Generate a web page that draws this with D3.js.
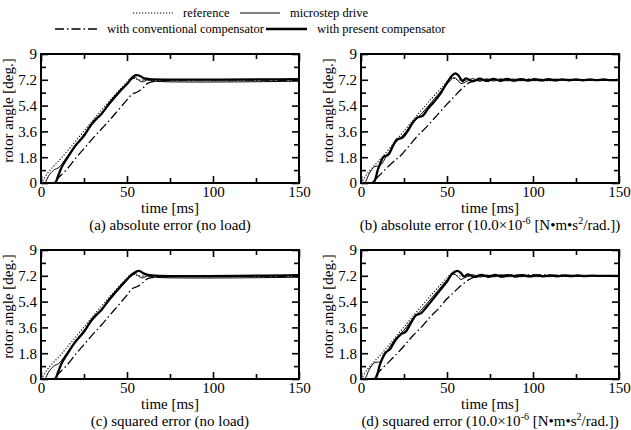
<!DOCTYPE html>
<html>
<head>
<meta charset="utf-8">
<script src="https://cdn.jsdelivr.net/npm/d3@7"></script>
<style>
  body { margin: 0; background: #fff; }
  svg { font-family: "Liberation Serif", "Times New Roman", serif; }
</style>
</head>
<body>
<div id="chart"></div>
<script>
// axis ticks
const xTicks = [0, 50, 100, 150];
const xMinor = [25, 75, 125];
const yTicks = [0, 1.8, 3.6, 5.4, 7.2, 9];
const yMinor = [0.9, 2.7, 4.5, 6.3, 8.1];

const legendNames = ["reference", "microstep drive", "with conventional compensator", "with present compensator"];

// (a) absolute error, no load
const refA = [[0,0],[1,0.15],[3,0.55],[6,1.0],[10,1.5],[20,2.9],[30,4.35],[40,5.75],[50,7.05],[52,7.3],[54,7.3],[57,7.2],[150,7.2]];
const microA = [[0,0],[2,0],[5,0.6],[8,0.95],[10,1.05],[12,1.3],[15,1.8],[20,2.6],[25,3.4],[30,4.1],[35,4.8],[40,5.5],[45,6.2],[50,6.9],[53,7.25],[55,7.35],[57,7.15],[59,7.05],[62,7.2],[66,7.1],[150,7.1]];
const convA = [[0,0],[7,0],[10,0.35],[15,0.95],[20,1.7],[25,2.4],[30,3.1],[35,3.75],[40,4.4],[45,5.1],[50,5.8],[53,6.2],[56,6.35],[59,6.6],[62,6.95],[66,7.1],[150,7.15]];
const presA = [[0,0],[8,0],[10,0.5],[12,1.1],[15,1.7],[20,2.6],[25,3.3],[30,4.2],[35,4.8],[40,5.6],[45,6.3],[50,6.9],[53,7.35],[55,7.52],[57,7.5],[60,7.3],[63,7.25],[150,7.25]];

// (b) absolute error, load
const refB = [[0,0],[1,0.15],[3,0.55],[6,1.0],[10,1.5],[20,2.9],[30,4.35],[40,5.75],[50,7.05],[52,7.3],[54,7.3],[57,7.2],[150,7.2]];
const microB = [[0,0],[2,0],[5,0.7],[8,1.15],[11,1.2],[15,1.9],[20,2.8],[25,3.4],[30,4.2],[35,4.8],[40,5.5],[45,6.2],[50,6.9],[54,7.35],[56,7.2],[58,6.95],[61,7.05],[65,7.28],[69,7.1],[73,7.27],[77,7.12],[81,7.26],[85,7.13],[89,7.25],[93,7.14],[97,7.24],[101,7.15],[105,7.24],[109,7.15],[113,7.23],[117,7.16],[121,7.23],[125,7.16],[129,7.22],[133,7.17],[137,7.22],[141,7.17],[145,7.22],[150,7.19]];
const convB = [[0,0],[6,0],[10,0.45],[15,1.05],[20,1.6],[23,1.9],[28,2.6],[33,3.3],[38,3.9],[44,4.7],[50,5.5],[54,6.0],[58,6.5],[63,7.0],[67,7.15],[150,7.17]];
const presB = [[0,0],[7,0],[10,1.0],[13,1.8],[16,2.0],[19,2.7],[21,3.05],[24,3.15],[27,3.6],[30,4.2],[33,4.58],[36,4.7],[39,5.2],[42,5.6],[46,6.2],[49,6.8],[53,7.5],[55,7.65],[57,7.45],[59,7.1],[61,7.3],[65,7.1],[69,7.28],[73,7.12],[77,7.27],[81,7.13],[85,7.26],[89,7.14],[93,7.25],[97,7.15],[101,7.24],[105,7.16],[109,7.24],[113,7.16],[117,7.23],[121,7.17],[125,7.23],[129,7.17],[133,7.22],[137,7.18],[141,7.22],[145,7.18],[150,7.2]];

// (c) squared error, no load
const refC = [[0,0],[1,0.15],[3,0.55],[6,1.0],[10,1.5],[20,2.9],[30,4.35],[40,5.75],[50,7.05],[52,7.3],[54,7.3],[57,7.2],[150,7.2]];
const microC = [[0,0],[2,0],[5,0.6],[8,0.95],[10,1.05],[12,1.3],[15,1.8],[20,2.6],[25,3.4],[30,4.1],[35,4.8],[40,5.5],[45,6.2],[50,6.9],[53,7.25],[55,7.35],[57,7.15],[59,7.05],[62,7.2],[66,7.1],[150,7.1]];
const convC = [[0,0],[7,0],[10,0.35],[15,0.95],[20,1.7],[25,2.4],[30,3.1],[35,3.75],[40,4.45],[45,5.15],[50,5.85],[53,6.3],[56,6.45],[59,6.7],[62,7.0],[66,7.1],[150,7.15]];
const presC = [[0,0],[8,0],[10,0.5],[12,1.1],[15,1.7],[20,2.6],[25,3.3],[30,4.2],[35,4.8],[40,5.6],[45,6.3],[50,6.95],[54,7.4],[57,7.55],[60,7.35],[63,7.25],[150,7.25]];

// (d) squared error, load
const refD = [[0,0],[1,0.15],[3,0.55],[6,1.0],[10,1.5],[20,2.9],[30,4.35],[40,5.75],[50,7.05],[52,7.3],[54,7.3],[57,7.2],[150,7.2]];
const microD = [[0,0],[2,0],[5,0.7],[8,1.15],[11,1.2],[15,1.9],[20,2.8],[25,3.4],[30,4.2],[35,4.8],[40,5.5],[45,6.2],[50,6.9],[54,7.35],[56,7.15],[58,6.95],[61,7.1],[65,7.27],[69,7.12],[73,7.25],[77,7.13],[81,7.24],[85,7.14],[89,7.24],[93,7.15],[97,7.23],[101,7.16],[105,7.23],[109,7.16],[113,7.22],[117,7.17],[121,7.22],[125,7.17],[129,7.22],[133,7.18],[137,7.21],[141,7.18],[145,7.21],[150,7.19]];
const convD = [[0,0],[7,0],[10,0.45],[15,1.05],[20,1.65],[25,2.3],[30,3.0],[35,3.6],[40,4.3],[45,4.9],[50,5.6],[54,6.05],[58,6.5],[63,6.95],[67,7.15],[150,7.17]];
const presD = [[0,0],[8,0],[11,1.0],[14,1.8],[17,2.1],[20,2.7],[23,3.1],[26,3.3],[29,3.9],[32,4.45],[35,4.6],[38,5.0],[42,5.6],[46,6.2],[50,6.8],[53,7.35],[56,7.55],[58,7.4],[60,7.15],[62,7.3],[66,7.12],[70,7.27],[74,7.13],[78,7.26],[82,7.14],[86,7.25],[90,7.15],[94,7.24],[98,7.16],[102,7.23],[106,7.17],[110,7.23],[114,7.17],[118,7.22],[122,7.18],[126,7.22],[130,7.18],[134,7.21],[140,7.19],[150,7.2]];

const panels = [
  { series: [refA, microA, convA, presA], left: 41, top: 54, caption: "(a) absolute error (no load)" },
  { series: [refB, microB, convB, presB], left: 361, top: 54, caption: "(b)", load: true },
  { series: [refC, microC, convC, presC], left: 41, top: 250, caption: "(c) squared error (no load)" },
  { series: [refD, microD, convD, presD], left: 361, top: 250, caption: "(d)", load: true, sq: true }
];

const width = 631, height = 430;
const pw = 258, ph = 129;
const serif = "'Liberation Serif', 'Times New Roman', serif";

// line styles: reference, microstep, conventional, present
const styles = [
  { w: 1.1, dash: "1.2,1.8" },
  { w: 1, dash: null },
  { w: 1.3, dash: "9,3,1.5,3" },
  { w: 2.3, dash: null }
];

const svg = d3.select("#chart").append("svg")
  .attr("width", width)
  .attr("height", height);

// legend
const legendItems = [
  { x: 133, y: 13, len: 40 },
  { x: 240, y: 13, len: 40 },
  { x: 55, y: 29, len: 42 },
  { x: 266, y: 29, len: 41 }
];
legendItems.forEach((p, i) => {
  svg.append("line")
    .attr("x1", p.x).attr("x2", p.x + p.len)
    .attr("y1", p.y).attr("y2", p.y)
    .attr("stroke", "#000")
    .attr("stroke-width", styles[i].w)
    .attr("stroke-dasharray", styles[i].dash);
  svg.append("text")
    .attr("x", p.x + p.len + 10)
    .attr("y", p.y + 4)
    .style("font-size", "12.5px")
    .text(legendNames[i]);
});

panels.forEach((p) => {
  const g = svg.append("g").attr("transform", "translate(" + p.left + "," + p.top + ")");

  const x = d3.scaleLinear().domain([0, 150]).range([0, pw]);
  const y = d3.scaleLinear().domain([0, 9]).range([ph, 0]);

  const clipId = "clip" + p.left + "_" + p.top;
  g.append("clipPath").attr("id", clipId)
    .append("rect").attr("width", pw).attr("height", ph);

  const line = d3.line()
    .x((d) => x(d[0]))
    .y((d) => y(d[1]))
    .curve(d3.curveCatmullRom.alpha(0.5));

  p.series.forEach((s, i) => {
    g.append("path")
      .datum(s)
      .attr("clip-path", "url(#" + clipId + ")")
      .attr("fill", "none")
      .attr("stroke", "#000")
      .attr("stroke-width", styles[i].w)
      .attr("stroke-dasharray", styles[i].dash)
      .attr("d", line);
  });

  // inward ticks on all four sides
  const axB = d3.axisBottom(x).tickValues(xTicks).tickSizeInner(-7).tickSizeOuter(0).tickPadding(3);
  const axT = d3.axisTop(x).tickValues(xTicks).tickSizeInner(-7).tickSizeOuter(0).tickFormat("");
  const axL = d3.axisLeft(y).tickValues(yTicks).tickSizeInner(-7).tickSizeOuter(0).tickPadding(4).tickFormat(d3.format(""));
  const axR = d3.axisRight(y).tickValues(yTicks).tickSizeInner(-7).tickSizeOuter(0).tickFormat("");
  const mB = d3.axisBottom(x).tickValues(xMinor).tickSizeInner(-5).tickSizeOuter(0).tickFormat("");
  const mT = d3.axisTop(x).tickValues(xMinor).tickSizeInner(-5).tickSizeOuter(0).tickFormat("");
  const mL = d3.axisLeft(y).tickValues(yMinor).tickSizeInner(-5).tickSizeOuter(0).tickFormat("");
  const mR = d3.axisRight(y).tickValues(yMinor).tickSizeInner(-5).tickSizeOuter(0).tickFormat("");

  [[axB, ph], [mB, ph], [axT, 0], [mT, 0]].forEach(([a, ty]) => {
    g.append("g").attr("class", "ax").attr("transform", "translate(0," + ty + ")").call(a);
  });
  [[axL, 0], [mL, 0], [axR, pw], [mR, pw]].forEach(([a, tx]) => {
    g.append("g").attr("class", "ax").attr("transform", "translate(" + tx + ",0)").call(a);
  });
  g.selectAll(".ax").attr("font-family", serif).attr("font-size", 15);
  g.selectAll(".ax path").remove();
  g.selectAll(".ax line").attr("stroke", "#000").attr("stroke-width", 1.6);
  g.selectAll(".ax text").attr("fill", "#000");

  g.append("rect")
    .attr("width", pw).attr("height", ph)
    .attr("fill", "none")
    .attr("stroke", "#000")
    .attr("stroke-width", 2);

  g.append("text")
    .attr("transform", "rotate(-90)")
    .attr("x", -ph / 2 + 8)
    .attr("y", -28)
    .style("text-anchor", "middle")
    .style("font-size", "15px")
    .text("rotor angle [deg.]");

  g.append("text")
    .attr("x", pw / 2)
    .attr("y", ph + 30)
    .style("text-anchor", "middle")
    .style("font-size", "15px")
    .text("time [ms]");

  const cap = g.append("text")
    .attr("x", pw / 2)
    .attr("y", ph + 47)
    .style("text-anchor", "middle")
    .style("font-size", "15px");
  if (p.load) {
    cap.append("tspan").text((p.sq ? "(d) squared" : "(b) absolute") + " error (10.0\u00d710");
    cap.append("tspan").attr("dy", -6).style("font-size", "10px").text("-6");
    cap.append("tspan").attr("dy", 6).text(" [N\u2022m\u2022s");
    cap.append("tspan").attr("dy", -6).style("font-size", "10px").text("2");
    cap.append("tspan").attr("dy", 6).text("/rad.])");
  } else {
    cap.text(p.caption);
  }
});
</script>
</body>
</html>
